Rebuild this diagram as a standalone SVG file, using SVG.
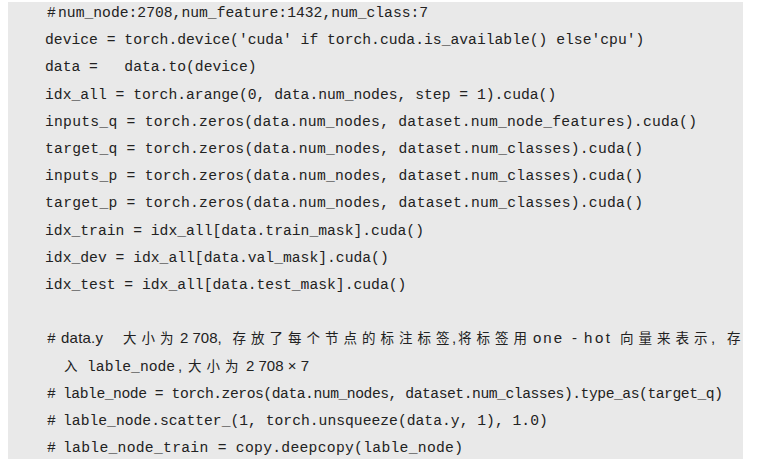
<svg xmlns="http://www.w3.org/2000/svg" width="778" height="474" viewBox="0 0 778 474">
<style>
.code{font-family:"Liberation Mono","DejaVu Sans Mono",monospace;font-size:14.7px;fill:#222;white-space:pre}
.sans{font-family:"Liberation Sans","Noto Sans CJK SC",sans-serif;font-size:15px;fill:#222;white-space:pre}
.cjk{font-family:"Noto Sans CJK SC",sans-serif;font-size:13.5px;fill:#222}
</style>
<rect x="8" y="2" width="735" height="457" fill="#e9e9e9"/>
<g id="code">
<text class="code" x="47" y="17">#</text>
<text class="code" x="58" y="17">num_node:2708,num_feature:1432,num_class:7</text>
<text class="code" x="45" y="44.2">device = torch.device('cuda' if torch.cuda.is_available() else'cpu')</text>
<text class="code" x="45" y="71.4" xml:space="preserve">data =   data.to(device)</text>
<text class="code" x="45" y="98.6">idx_all = torch.arange(0, data.num_nodes, step = 1).cuda()</text>
<text class="code" x="45" y="125.8" textLength="652" lengthAdjust="spacing">inputs_q = torch.zeros(data.num_nodes, dataset.num_node_features).cuda()</text>
<text class="code" x="45" y="153" textLength="598" lengthAdjust="spacing">target_q = torch.zeros(data.num_nodes, dataset.num_classes).cuda()</text>
<text class="code" x="45" y="180.2" textLength="598" lengthAdjust="spacing">inputs_p = torch.zeros(data.num_nodes, dataset.num_classes).cuda()</text>
<text class="code" x="45" y="207.4" textLength="598" lengthAdjust="spacing">target_p = torch.zeros(data.num_nodes, dataset.num_classes).cuda()</text>
<text class="code" x="45" y="234.6">idx_train = idx_all[data.train_mask].cuda()</text>
<text class="code" x="45" y="261.8">idx_dev = idx_all[data.val_mask].cuda()</text>
<text class="code" x="45" y="289">idx_test = idx_all[data.test_mask].cuda()</text>
</g>
<g id="comment">
<text class="code" x="47" y="343.4">#</text>
<text class="sans" x="61" y="343.4" textLength="42" lengthAdjust="spacing">data.y</text>
<text class="cjk" x="123 141.5 160" y="343.4">大小为</text>
<text class="sans" x="180" y="343.4" xml:space="preserve">2 708,</text>
<text class="cjk" x="232.5 251 269.5 288 306.5 325 343.5 362 380.5 399 417.5 436" y="343.4">存放了每个节点的标注标签</text>
<text class="sans" x="452" y="343.4">,</text>
<text class="cjk" x="458 476.5 495 513.5" y="343.4">将标签用</text>
<text class="sans" x="533" y="343.4" textLength="29" lengthAdjust="spacing">one</text>
<text class="sans" x="572" y="343.4">-</text>
<text class="sans" x="584" y="343.4" textLength="26" lengthAdjust="spacing">hot</text>
<text class="cjk" x="620 638.5 657 675.5 694" y="343.4">向量来表示</text>
<text class="sans" x="711" y="343.4">,</text>
<text class="cjk" x="727" y="343.4">存</text>
<text class="cjk" x="64" y="370.6">入</text>
<text class="code" x="87" y="370.6">lable_node</text>
<text class="sans" x="178" y="370.6">,</text>
<text class="cjk" x="188 206.5 225" y="370.6">大小为</text>
<text class="sans" x="246" y="370.6" xml:space="preserve">2 708 × 7</text>
<text class="code" x="47" y="397.8">#</text>
<text class="code" x="63" y="397.8" textLength="660" lengthAdjust="spacing">lable_node = torch.zeros(data.num_nodes, dataset.num_classes).type_as(target_q)</text>
<text class="code" x="47" y="425">#</text>
<text class="code" x="63" y="425">lable_node.scatter_(1, torch.unsqueeze(data.y, 1), 1.0)</text>
<text class="code" x="47" y="452.2">#</text>
<text class="code" x="63" y="452.2" textLength="400" lengthAdjust="spacing">lable_node_train = copy.deepcopy(lable_node)</text>
</g>
</svg>
